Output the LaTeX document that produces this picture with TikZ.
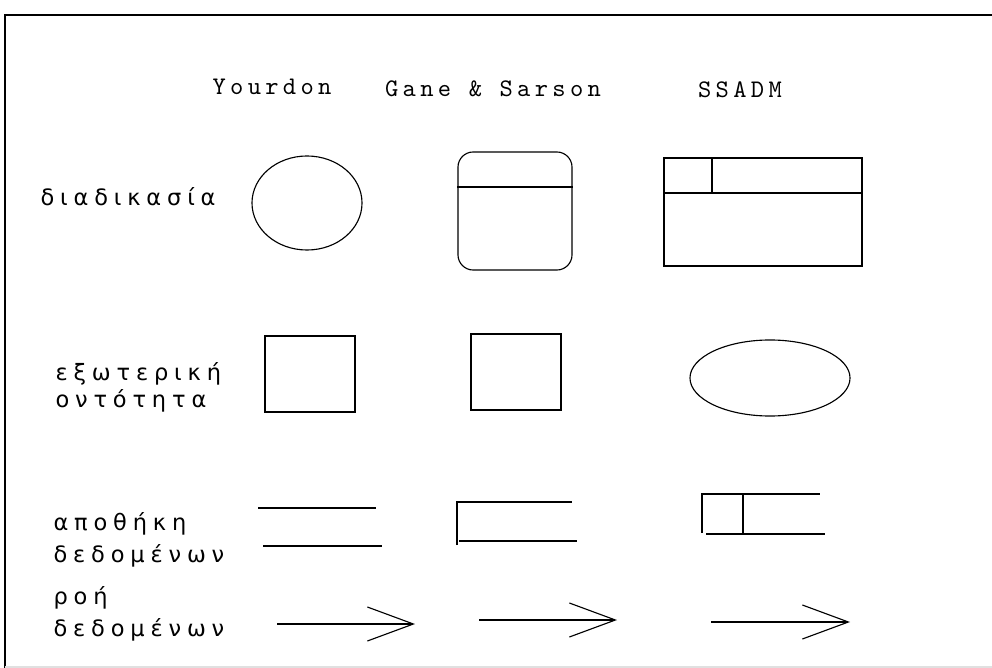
\documentclass[tikz,border=0pt]{standalone}
\usepackage{fontspec}
\usetikzlibrary{shapes.geometric,arrows.meta}
\newfontfamily\grfont[LetterSpace=26]{DejaVu Sans}
\newfontfamily\hdfont[LetterSpace=17, Extension=.otf]{lmmono10-regular}

\begin{document}
\begin{tikzpicture}[x=0.025cm, y=-0.025cm, line width=0.8pt,
		hd/.style={font=\hdfont\fontsize{18}{20}\selectfont},
		lbl/.style={anchor=west, align=left, inner sep=0pt, font=\grfont\fontsize{16}{23}\selectfont},
		shp/.style={draw, inner sep=0pt},
		flow/.style={-{Straight Barb[length=1.15cm, width=0.85cm]}}]
		\useasboundingbox (0,0) rectangle (992,668);
		% frame of the page
		\draw (992,15) -- (5,15) -- (5,668);
		\draw[black!12] (5,667) -- (992,667);
		% notations
		\node[hd] (yourdon) at (272,87) {Yourdon};
		\node[hd] (gane) at (493,89) {Gane \& Sarson};
		\node[hd] (ssadm) at (740,90) {SSADM};
		% rows
		\node[lbl] (process) at (40,197) {διαδικασία};
		\node[lbl, font=\grfont\fontsize{16}{19}\selectfont] (entity) at (55,387) {εξωτερική\\οντότητα};
		\node[lbl] (store) at (53,540) {αποθήκη\\δεδομένων};
		\node[lbl] (dflow) at (53,614) {ροή\\δεδομένων};
		% process
		\node[shp, ellipse, minimum width=2.75cm, minimum height=2.35cm] (yproc) at (307,203) {};
		\node[shp, rectangle, rounded corners=0.38cm, minimum width=2.85cm, minimum height=2.95cm] (gproc) at (515,211) {};
		\draw (gproc.west |- 0,187) -- (gproc.east |- 0,187);
		\node[shp, rectangle, minimum width=4.95cm, minimum height=2.7cm] (sproc) at (763,212) {};
		\draw (sproc.west |- 0,193) -- (sproc.east |- 0,193);
		\draw (sproc.north -| 712,0) -- (712,193);
		% external entity
		\node[shp, rectangle, minimum width=2.25cm, minimum height=1.9cm] (yent) at (310,374) {};
		\node[shp, rectangle, minimum width=2.25cm, minimum height=1.9cm] (gent) at (516,372) {};
		\node[shp, ellipse, minimum width=4cm, minimum height=1.9cm] (sent) at (770,378) {};
		% data store
		\draw (258,508) -- (376,508);
		\draw (263,546) -- (382,546);
		\draw (457,545) -- (457,502) -- (572,502);
		\draw (459,541) -- (577,541);
		\draw (702,533) -- (702,494) -- (820,494);
		\draw (743,494) -- (743,534);
		\draw (706,534) -- (825,534);
		% data flow
		\foreach \a/\b/\y in {277/415/624, 479/617/620, 711/850/622} {
			\coordinate (s\a) at (\a,\y);
			\coordinate (t\a) at (\b,\y);
			\draw[flow] (s\a) -- (t\a);
		}
	\end{tikzpicture}
\end{document}
